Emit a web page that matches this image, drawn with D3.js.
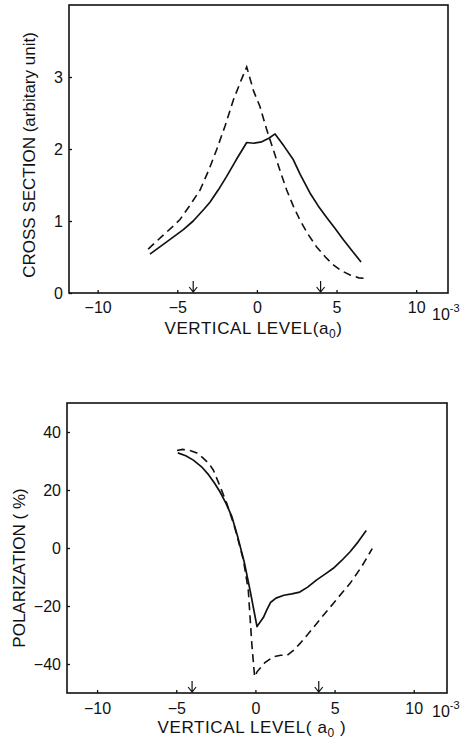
<!DOCTYPE html>
<html>
<head>
<meta charset="utf-8">
<script src="https://cdn.jsdelivr.net/npm/d3@7"></script>
<style>
  html, body { margin: 0; padding: 0; background: #fff; }
  svg text { font-family: "Liberation Sans", Arial, sans-serif; fill: #111; }
</style>
</head>
<body>
<svg id="fig" width="463" height="741"></svg>
<script>
// Upper panel: cross section vs vertical level (x in units of 1e-3 a0)
const csSolid = [
  [-6.72,0.54],[-5.6,0.72],[-4.62,0.88],[-4.0,1.0],[-3.3,1.17],[-2.95,1.26],[-2.4,1.44],
  [-1.9,1.62],[-1.3,1.85],[-0.64,2.09],[-0.2,2.08],[0.3,2.10],[0.75,2.15],[1.14,2.21],
  [1.7,2.04],[2.29,1.85],[2.71,1.65],[3.33,1.39],[3.85,1.21],[4.38,1.05],[4.9,0.9],
  [5.43,0.74],[6.0,0.58],[6.54,0.43]
];
const csDashed = [
  [-6.83,0.61],[-6.0,0.78],[-5.2,0.94],[-4.83,1.02],[-4.2,1.22],[-3.57,1.43],[-3.0,1.72],
  [-2.53,1.99],[-2.0,2.32],[-1.48,2.68],[-1.0,2.95],[-0.64,3.14],[-0.2,2.8],[0.19,2.59],
  [0.6,2.28],[1.03,1.99],[1.45,1.7],[1.87,1.43],[2.3,1.2],[2.71,1.01],[3.2,0.82],
  [3.75,0.64],[4.3,0.5],[4.8,0.39],[5.3,0.31],[5.85,0.25],[6.4,0.21],[6.9,0.2]
];
// Lower panel: polarization (%) vs vertical level
const polSolid = [
  [-4.9,32.8],[-4.4,31.8],[-3.92,30.3],[-3.4,28.0],[-2.95,25.2],[-2.6,22.5],[-2.24,19.4],
  [-1.85,15.3],[-1.5,11.0],[-1.1,3.5],[-0.7,-5.0],[-0.34,-14.5],[0.1,-27.1],[0.5,-24.0],
  [0.75,-21.0],[0.95,-18.8],[1.3,-17.3],[1.8,-16.3],[2.3,-15.8],[2.8,-15.2],[3.3,-13.5],
  [3.87,-11.0],[4.4,-9.0],[4.92,-7.0],[5.45,-4.3],[5.98,-1.3],[6.5,2.2],[7.0,6.0]
];
const polDashed = [
  [-4.95,33.6],[-4.6,34.0],[-4.13,33.6],[-3.7,32.8],[-3.3,31.0],[-2.95,29.2],[-2.66,26.9],
  [-2.25,21.5],[-1.81,15.4],[-1.3,7.0],[-0.76,-4.1],[-0.45,-14.5],[-0.23,-32.9],[-0.05,-44.4],
  [0.1,-42.7],[0.6,-39.5],[1.13,-37.5],[1.6,-37.0],[2.0,-37.0],[2.4,-35.3],[2.82,-32.9],
  [3.35,-29.5],[3.87,-26.0],[4.4,-22.5],[4.92,-19.1],[5.45,-15.6],[5.98,-12.2],[6.7,-6.5],
  [7.38,-0.2]
];

const xTicks = [-10, -5, 0, 5, 10];
const csTicks = [0, 1, 2, 3];
const polTicks = [-40, -20, 0, 20, 40];
const arrowLevels = [-4, 4];

const svg = d3.select("#fig");

const panels = [
  {
    left: 69, right: 448, top: 5, bottom: 293,
    xDomain: [-11.8, 12], yDomain: [0, 4], yTicks: csTicks,
    solid: csSolid, dashed: csDashed,
    yTitle: "CROSS SECTION (arbitary unit)", yTitleX: 29,
    xLabelY: 313, xTitle: ["VERTICAL LEVEL(a", "0", ")"], xTitleY: 334,
    expY: 320
  },
  {
    left: 67, right: 447, top: 403, bottom: 693,
    xDomain: [-11.9, 12.1], yDomain: [-50, 50], yTicks: polTicks,
    solid: polSolid, dashed: polDashed,
    yTitle: "POLARIZATION ( %)", yTitleX: 19,
    xLabelY: 714, xTitle: ["VERTICAL LEVEL( a", "0", " )"], xTitleY: 733,
    expY: 717
  }
];

panels.forEach(p => {
  const x = d3.scaleLinear().domain(p.xDomain).range([p.left, p.right]);
  const y = d3.scaleLinear().domain(p.yDomain).range([p.bottom, p.top]);
  const g = svg.append("g");

  // frame
  g.append("rect")
    .attr("x", p.left).attr("y", p.top)
    .attr("width", p.right - p.left).attr("height", p.bottom - p.top)
    .attr("fill", "none").attr("stroke", "#111").attr("stroke-width", 1.6);

  // bottom axis: short inward ticks, labels below
  const xAxis = d3.axisBottom(x).tickValues(xTicks).tickSize(-3).tickPadding(8)
    .tickFormat(d => d < 0 ? "\u2212" + Math.abs(d) : String(d));
  const gx = g.append("g").attr("transform", `translate(0,${p.bottom})`).call(xAxis);
  gx.select(".domain").remove();
  gx.selectAll(".tick line").attr("stroke", "#111").attr("stroke-width", 1.3);
  gx.selectAll(".tick text").attr("font-size", 16).attr("dy", null)
    .attr("y", p.xLabelY - p.bottom).attr("fill", "#111")
    .style("font-family", "Liberation Sans, Arial, sans-serif");

  // left axis
  const yAxis = d3.axisLeft(y).tickValues(p.yTicks).tickSize(-3).tickPadding(6)
    .tickFormat(d => d < 0 ? "\u2212" + Math.abs(d) : String(d));
  const gy = g.append("g").attr("transform", `translate(${p.left},0)`).call(yAxis);
  gy.select(".domain").remove();
  gy.selectAll(".tick line").attr("stroke", "#111").attr("stroke-width", 1.3);
  gy.selectAll(".tick text").attr("font-size", 16).attr("fill", "#111")
    .style("font-family", "Liberation Sans, Arial, sans-serif");

  // down arrows marking the two levels
  arrowLevels.forEach(v => {
    const ax = x(v), ay = p.bottom - 1;
    g.append("path")
      .attr("d", `M${ax},${ay - 11}L${ax},${ay}M${ax - 4},${ay - 5}L${ax},${ay}L${ax + 4},${ay - 5}`)
      .attr("fill", "none").attr("stroke", "#111").attr("stroke-width", 1.2);
  });

  // curves
  const line = d3.line().x(d => x(d[0])).y(d => y(d[1])).curve(d3.curveLinear);
  g.append("path").datum(p.solid).attr("d", line)
    .attr("fill", "none").attr("stroke", "#111").attr("stroke-width", 1.7)
    .attr("stroke-linejoin", "round");
  g.append("path").datum(p.dashed).attr("d", line)
    .attr("fill", "none").attr("stroke", "#111").attr("stroke-width", 1.6)
    .attr("stroke-dasharray", "8,5");

  // axis titles
  const xt = g.append("text").attr("x", (p.left + p.right) / 2 - 5).attr("y", p.xTitleY)
    .attr("text-anchor", "middle").attr("font-size", 17).attr("letter-spacing", 0.6);
  xt.append("tspan").text(p.xTitle[0]);
  xt.append("tspan").attr("font-size", 12).attr("dy", 4).text(p.xTitle[1]);
  xt.append("tspan").attr("dy", -4).text(p.xTitle[2]);

  g.append("text")
    .attr("transform", `translate(${p.yTitleX},${(p.top + p.bottom) / 2 + (p.top > 100 ? 20 : 6)}) rotate(-90)`)
    .attr("text-anchor", "middle").attr("font-size", 17).attr("dy", "0.35em")
    .text(p.yTitle);

  // multiplier for the x axis
  const ex = g.append("text").attr("x", 432).attr("y", p.expY).attr("font-size", 16);
  ex.append("tspan").text("10");
  ex.append("tspan").attr("font-size", 11).attr("dy", -8).text("-3");
});
</script>
</body>
</html>
